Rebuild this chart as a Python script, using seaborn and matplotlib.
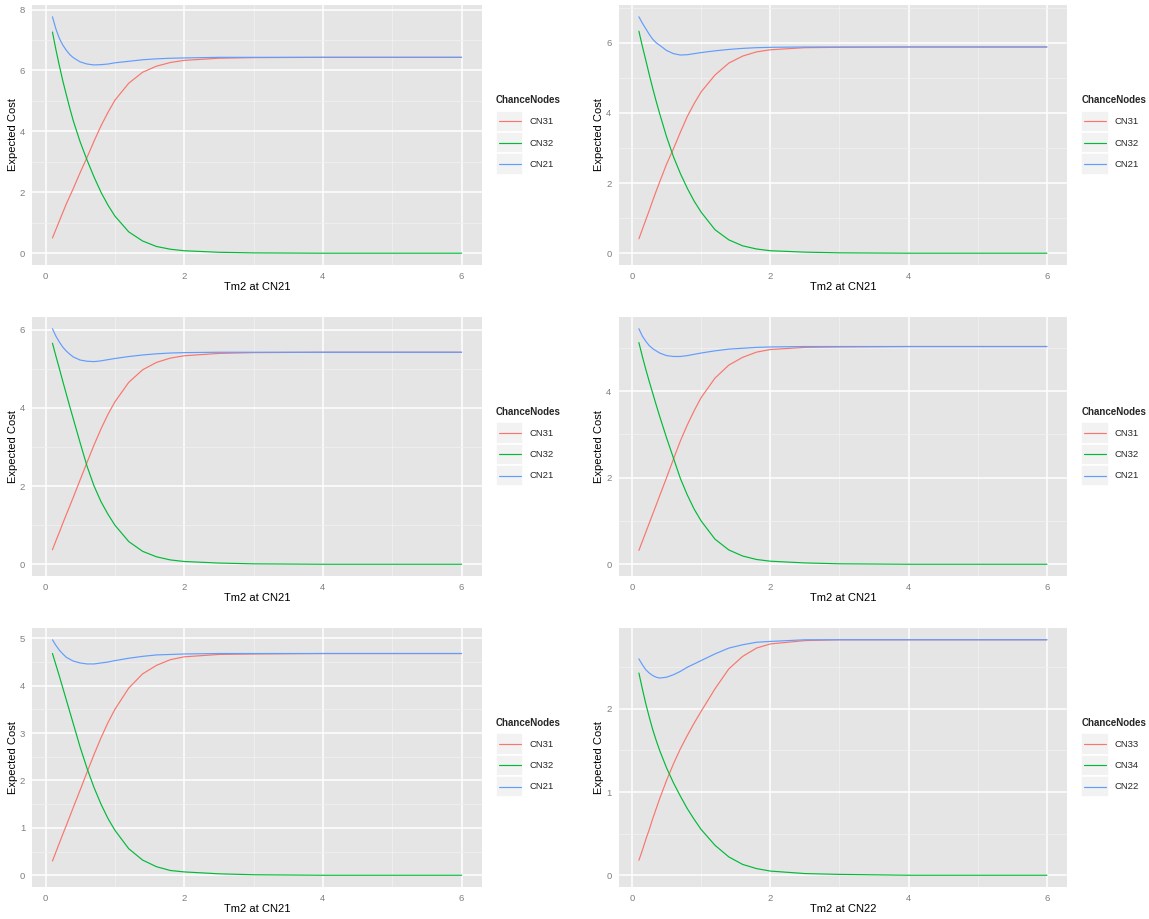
import matplotlib
matplotlib.use("Agg")
import matplotlib.pyplot as plt
import numpy as np
import pandas as pd
import seaborn as sns
from matplotlib.legend_handler import HandlerLine2D
from matplotlib.lines import Line2D
from matplotlib.patches import Rectangle
from matplotlib.ticker import MultipleLocator

# Time grid shared by every panel
tm2 = [0.1, 0.15, 0.2, 0.25, 0.3, 0.35, 0.4, 0.5, 0.6, 0.7, 0.8, 0.9, 1.0,
       1.2, 1.4, 1.6, 1.8, 2.0, 2.5, 3.0, 4.0, 6.0]

# Panel 1
p1_cn31 = [0.50, 0.78, 1.06, 1.34, 1.62, 1.87, 2.12, 2.65, 3.15, 3.68, 4.18, 4.62, 5.02, 5.58, 5.94, 6.14, 6.26, 6.33, 6.40, 6.42, 6.43, 6.43]
p1_cn32 = [7.26, 6.68, 6.15, 5.65, 5.20, 4.76, 4.35, 3.65, 3.05, 2.50, 2.00, 1.58, 1.22, 0.70, 0.40, 0.22, 0.13, 0.08, 0.03, 0.01, 0.00, 0.00]
p1_cn21 = [7.76, 7.36, 7.05, 6.83, 6.66, 6.52, 6.42, 6.28, 6.21, 6.18, 6.19, 6.21, 6.25, 6.30, 6.35, 6.38, 6.40, 6.41, 6.43, 6.43, 6.43, 6.43]

# Panel 2
p2_cn31 = [0.41, 0.68, 0.95, 1.22, 1.50, 1.77, 2.03, 2.54, 2.98, 3.45, 3.90, 4.27, 4.60, 5.08, 5.42, 5.62, 5.74, 5.80, 5.86, 5.87, 5.88, 5.88]
p2_cn32 = [6.33, 5.90, 5.50, 5.09, 4.70, 4.33, 3.98, 3.32, 2.75, 2.27, 1.85, 1.48, 1.17, 0.67, 0.38, 0.21, 0.12, 0.07, 0.03, 0.01, 0.00, 0.00]
p2_cn21 = [6.74, 6.56, 6.40, 6.24, 6.10, 6.00, 5.93, 5.78, 5.69, 5.65, 5.66, 5.69, 5.72, 5.77, 5.81, 5.84, 5.86, 5.87, 5.88, 5.88, 5.88, 5.88]

# Panel 3
p3_cn31 = [0.37, 0.60, 0.82, 1.05, 1.27, 1.49, 1.71, 2.16, 2.61, 3.05, 3.46, 3.83, 4.15, 4.65, 4.97, 5.16, 5.27, 5.33, 5.39, 5.41, 5.42, 5.42]
p3_cn32 = [5.65, 5.32, 5.00, 4.67, 4.35, 4.03, 3.72, 3.10, 2.50, 2.00, 1.60, 1.28, 1.00, 0.58, 0.33, 0.19, 0.11, 0.07, 0.03, 0.01, 0.00, 0.00]
p3_cn21 = [6.02, 5.83, 5.68, 5.55, 5.45, 5.37, 5.30, 5.22, 5.19, 5.18, 5.20, 5.23, 5.26, 5.31, 5.35, 5.38, 5.40, 5.41, 5.42, 5.42, 5.42, 5.42]

# Panel 4
p4_cn31 = [0.32, 0.53, 0.74, 0.95, 1.16, 1.37, 1.58, 2.00, 2.43, 2.85, 3.22, 3.55, 3.85, 4.30, 4.60, 4.78, 4.90, 4.96, 5.01, 5.02, 5.03, 5.03]
p4_cn32 = [5.12, 4.80, 4.50, 4.22, 3.95, 3.68, 3.42, 2.92, 2.45, 1.98, 1.60, 1.27, 1.00, 0.58, 0.33, 0.19, 0.11, 0.07, 0.03, 0.01, 0.00, 0.00]
p4_cn21 = [5.44, 5.27, 5.15, 5.05, 4.98, 4.93, 4.88, 4.82, 4.80, 4.80, 4.82, 4.85, 4.88, 4.93, 4.97, 4.99, 5.01, 5.02, 5.03, 5.03, 5.03, 5.03]

# Panel 5
p5_cn31 = [0.30, 0.49, 0.68, 0.87, 1.05, 1.24, 1.43, 1.80, 2.18, 2.55, 2.90, 3.22, 3.50, 3.95, 4.25, 4.43, 4.55, 4.61, 4.66, 4.67, 4.68, 4.68]
p5_cn32 = [4.68, 4.44, 4.20, 3.95, 3.70, 3.45, 3.20, 2.70, 2.25, 1.85, 1.50, 1.20, 0.95, 0.56, 0.32, 0.18, 0.10, 0.07, 0.03, 0.01, 0.00, 0.00]
p5_cn21 = [4.97, 4.85, 4.75, 4.67, 4.60, 4.56, 4.52, 4.48, 4.46, 4.46, 4.48, 4.50, 4.53, 4.58, 4.62, 4.65, 4.66, 4.67, 4.68, 4.68, 4.68, 4.68]

# Panel 6
p6_cn33 = [0.18, 0.30, 0.43, 0.55, 0.68, 0.80, 0.92, 1.14, 1.34, 1.52, 1.68, 1.83, 1.97, 2.24, 2.48, 2.63, 2.73, 2.78, 2.82, 2.83, 2.83, 2.83]
p6_cn34 = [2.43, 2.24, 2.06, 1.90, 1.75, 1.62, 1.50, 1.29, 1.11, 0.95, 0.80, 0.67, 0.55, 0.36, 0.22, 0.13, 0.08, 0.05, 0.02, 0.01, 0.00, 0.00]
p6_cn22 = [2.60, 2.53, 2.47, 2.43, 2.40, 2.38, 2.37, 2.38, 2.41, 2.45, 2.50, 2.54, 2.58, 2.66, 2.73, 2.77, 2.80, 2.81, 2.83, 2.83, 2.83, 2.83]

labels_a = ["CN31", "CN32", "CN21"]
labels_b = ["CN33", "CN34", "CN22"]
x_titles = ["Tm2 at CN21"] * 5 + ["Tm2 at CN22"]

panels = [
    (labels_a, [p1_cn31, p1_cn32, p1_cn21], 2, 1),
    (labels_a, [p2_cn31, p2_cn32, p2_cn21], 2, 1),
    (labels_a, [p3_cn31, p3_cn32, p3_cn21], 2, 1),
    (labels_a, [p4_cn31, p4_cn32, p4_cn21], 2, 1),
    (labels_a, [p5_cn31, p5_cn32, p5_cn21], 1, 0.5),
    (labels_b, [p6_cn33, p6_cn34, p6_cn22], 1, 0.5),
]

hue_colors = ["#F8766D", "#00BA38", "#619CFF"]
PANEL_BG = "#E5E5E5"
MINOR_GRID = "#F2F2F2"
TICK_GREY = "#7F7F7F"

sns.set_style("white")
plt.rcParams["font.family"] = ["Liberation Sans", "DejaVu Sans"]


class KeyBox(HandlerLine2D):
    """Legend key drawn as a light grey tile with a short coloured line."""

    def create_artists(self, legend, orig_handle, xdescent, ydescent,
                       width, height, fontsize, trans):
        tile = Rectangle((-xdescent, -ydescent), width, height,
                         facecolor=MINOR_GRID, edgecolor="white",
                         linewidth=1.2, transform=trans)
        yc = -ydescent + height / 2
        seg = Line2D([-xdescent + 0.1 * width, -xdescent + 0.9 * width],
                     [yc, yc], color=orig_handle.get_color(),
                     linewidth=orig_handle.get_linewidth(), transform=trans)
        return [tile, seg]


W, H = 1149, 919
fig = plt.figure(figsize=(W / 100, H / 100), dpi=100)
fig.patch.set_facecolor("white")

cols = [(32, 482), (618.5, 1067.3)]
rows = [(5, 265), (317, 576), (628, 887)]

for i, (labels, series, major, minor) in enumerate(panels):
    r, c = divmod(i, 2)
    x0, x1 = cols[c]
    y0, y1 = rows[r]
    ax = fig.add_axes([x0 / W, 1 - y1 / H, (x1 - x0) / W, (y1 - y0) / H])

    df = pd.DataFrame({
        "Tm2": np.tile(tm2, 3),
        "cost": np.concatenate(series),
        "node": np.repeat(labels, len(tm2)),
    })
    ax.set_facecolor(PANEL_BG)
    ax.set_axisbelow(True)
    sns.lineplot(data=df, x="Tm2", y="cost", hue="node", hue_order=labels,
                 palette=hue_colors, ax=ax, legend=False, linewidth=0.85,
                 sort=True)

    # ggplot-style 5% expansion of the data range
    xs = np.asarray(tm2)
    xpad = 0.05 * (xs.max() - xs.min())
    ax.set_xlim(xs.min() - xpad, xs.max() + xpad)
    ys = np.concatenate(series)
    ypad = 0.05 * (ys.max() - ys.min())
    ax.set_ylim(ys.min() - ypad, ys.max() + ypad)

    ax.xaxis.set_major_locator(MultipleLocator(2))
    ax.xaxis.set_minor_locator(MultipleLocator(1))
    ax.yaxis.set_major_locator(MultipleLocator(major))
    ax.yaxis.set_minor_locator(MultipleLocator(minor))
    ax.yaxis.set_major_formatter(plt.FuncFormatter(lambda v, p: f"{v:g}"))
    ax.xaxis.set_major_formatter(plt.FuncFormatter(lambda v, p: f"{v:g}"))

    ax.grid(which="major", color="white", linewidth=1.1)
    ax.grid(which="minor", color=MINOR_GRID, linewidth=0.55)
    for sp in ax.spines.values():
        sp.set_visible(False)
    ax.tick_params(which="major", length=3, width=0.8, color=TICK_GREY,
                   labelcolor=TICK_GREY, labelsize=6.8, pad=2)
    ax.tick_params(which="minor", length=0)

    ax.set_xlabel(x_titles[i], fontsize=8, color="black", labelpad=1)
    ax.set_ylabel("Expected Cost", fontsize=8, color="black", labelpad=1.5)

    handles = [Line2D([], [], color=col, linewidth=0.85) for col in hue_colors]
    leg = ax.legend(handles, labels, title="ChanceNodes",
                    loc="center left", bbox_to_anchor=(1 + 14 / (x1 - x0), 0.5),
                    frameon=False, handlelength=2.9, handleheight=3.1,
                    labelspacing=0.0, handletextpad=0.6, borderpad=0,
                    borderaxespad=0, fontsize=6.8,
                    title_fontproperties={"weight": "bold", "size": 7},
                    handler_map={Line2D: KeyBox()})
    leg._legend_box.align = "left"
    leg._legend_box.sep = 4

fig.savefig("out.png", dpi=100, facecolor="white")
